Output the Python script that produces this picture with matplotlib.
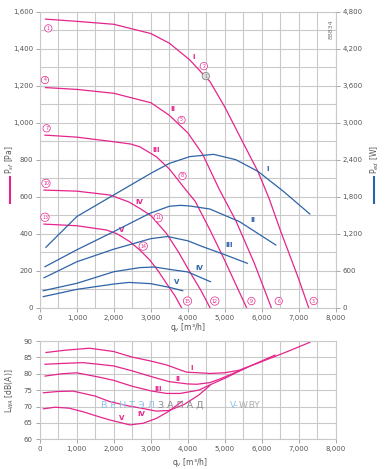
import matplotlib
matplotlib.use('Agg')
import matplotlib.pyplot as plt
from matplotlib.ticker import MultipleLocator, FuncFormatter

# pressure curves p_sf [Pa] for speeds I..V
q_p1 = [150, 1000, 2000, 3000, 3500, 4050, 4600, 5000, 5500, 5900, 6200, 6500, 7000, 7270]
p_1 = [1560, 1548, 1532, 1482, 1430, 1340, 1222, 1085, 890, 735, 590, 420, 155, 0]
q_p2 = [150, 1000, 2000, 3000, 3500, 4000, 4400, 4850, 5300, 5800, 6260]
p_2 = [1190, 1180, 1159, 1108, 1040, 945, 830, 640, 470, 240, 0]
q_p3 = [135, 1000, 2000, 2450, 2700, 3150, 3500, 3950, 4200, 4600, 5000, 5300, 5590]
p_3 = [933, 922, 897, 885, 870, 816, 750, 636, 575, 420, 255, 125, 0]
q_p4 = [108, 1000, 1900, 2400, 2700, 3000, 3420, 3750, 4050, 4350, 4600]
p_4 = [636, 630, 609, 572, 537, 498, 402, 300, 195, 95, 0]
q_p5 = [108, 1000, 1800, 2100, 2430, 2700, 2970, 3200, 3420, 3650, 3830]
p_5 = [452, 443, 420, 398, 357, 312, 258, 198, 132, 65, 0]

# power curves P_ed [W]
q_w1 = [160, 1000, 2000, 3000, 3500, 4050, 4700, 5300, 5900, 6600, 7300]
w_1 = [980, 1480, 1830, 2180, 2340, 2450, 2487, 2400, 2210, 1880, 1520]
q_w2 = [135, 1000, 2000, 2970, 3500, 3800, 4050, 4600, 5400, 6380]
w_2 = [665, 940, 1235, 1530, 1645, 1660, 1650, 1600, 1395, 1017]
q_w3 = [108, 1000, 2000, 3000, 3450, 4000, 4400, 5000, 5610]
w_3 = [485, 746, 950, 1120, 1155, 1085, 990, 860, 720]
q_w4 = [90, 1000, 2000, 2700, 3100, 3500, 4000, 4610]
w_4 = [276, 396, 584, 650, 660, 622, 580, 422]
q_w5 = [90, 1000, 2000, 2400, 3000, 3500, 3860]
w_5 = [180, 298, 384, 410, 390, 330, 276]

# sound power L_WA [dB(A)]
q_l1 = [175, 700, 1350, 2000, 2500, 3000, 3430, 3970, 4300, 4600, 5000, 5400, 6000, 6700, 7300]
l_1 = [86.5, 87.2, 87.8, 86.8, 85.1, 83.9, 82.7, 80.5, 80.3, 80.1, 80.3, 81.1, 83.7, 86.8, 89.6]
q_l2 = [148, 700, 1180, 2000, 2500, 3000, 3500, 4000, 4250, 4600, 4870, 5500, 6360]
l_2 = [82.9, 83.2, 83.4, 82.4, 80.9, 79.2, 77.6, 76.9, 76.8, 77.3, 78.4, 81.4, 85.7]
q_l3 = [148, 600, 1000, 1600, 2000, 2500, 3000, 3430, 3800, 4300, 4600, 5000, 5590]
l_3 = [79.3, 80.0, 80.3, 79.0, 78.0, 76.2, 74.8, 74.0, 74.0, 75.0, 76.6, 78.6, 81.9]
q_l4 = [103, 500, 913, 1500, 1900, 2400, 2700, 3160, 3500, 3900, 4300, 4600]
l_4 = [74.2, 74.6, 74.7, 73.2, 71.5, 70.2, 69.6, 68.6, 68.8, 70.6, 73.5, 76.4]
q_l5 = [103, 418, 800, 1180, 1600, 1900, 2440, 2800, 3160, 3500, 3850]
l_5 = [69.3, 69.8, 69.5, 68.4, 66.9, 65.9, 64.4, 64.9, 66.4, 68.6, 71.6]

roman = ['I', 'II', 'III', 'IV', 'V']

PINK = '#e5258c'
BLUE = '#2e63a8'
GRID = '#c9c9c9'
TXT = '#555555'

fig = plt.figure(figsize=(3.92, 4.69), dpi=100)
fig.patch.set_facecolor('white')

comma = FuncFormatter(lambda v, pos: f'{v:,.0f}')


def style_axes(ax, xminor, yminor):
    ax.xaxis.set_minor_locator(MultipleLocator(xminor))
    ax.yaxis.set_minor_locator(MultipleLocator(yminor))
    ax.grid(True, which='both', color=GRID, linewidth=0.8)
    ax.set_axisbelow(True)
    for s in ax.spines.values():
        s.set_color(GRID)
        s.set_linewidth(0.8)
    ax.tick_params(which='major', length=3, width=0.6, color='#999999',
                   labelsize=5, labelcolor=TXT, pad=2)
    ax.tick_params(which='minor', length=0)


# top chart: pressure + power
ax1 = fig.add_axes([0.1020, 0.3439, 0.7543, 0.6311])
ax1.set_xlim(0, 8000)
ax1.set_ylim(0, 1600)
ax1.xaxis.set_major_locator(MultipleLocator(1000))
ax1.yaxis.set_major_locator(MultipleLocator(200))
ax1.xaxis.set_major_formatter(comma)
ax1.yaxis.set_major_formatter(comma)
style_axes(ax1, 500, 100)

ax2 = ax1.twinx()
ax2.set_ylim(0, 4800)
ax2.yaxis.set_major_locator(MultipleLocator(600))
ax2.yaxis.set_major_formatter(comma)
for s in ax2.spines.values():
    s.set_visible(False)
ax2.tick_params(length=3, width=0.6, color='#999999', labelsize=5, labelcolor=TXT, pad=2)

press = [(q_p1, p_1), (q_p2, p_2), (q_p3, p_3), (q_p4, p_4), (q_p5, p_5)]
for q, p in press:
    ax1.plot(q, p, color=PINK, lw=0.9, solid_joinstyle='round')

power = [(q_w1, w_1), (q_w2, w_2), (q_w3, w_3), (q_w4, w_4), (q_w5, w_5)]
for q, w in power:
    ax2.plot(q, w, color=BLUE, lw=0.9, solid_joinstyle='round')

# roman labels
pink_lab = [(4160, 1355), (3600, 1072), (3150, 852), (2680, 573), (2210, 420)]
for r, (x, y) in zip(roman, pink_lab):
    ax1.text(x, y, r, color=PINK, fontsize=5, fontweight='bold', ha='center', va='center')
blue_lab = [(6170, 2244), (5750, 1422), (5120, 1017), (4300, 640), (3700, 423)]
for r, (x, y) in zip(roman, blue_lab):
    ax2.text(x, y, r, color=BLUE, fontsize=5, fontweight='bold', ha='center', va='center')

# circled point numbers
circ = [('1', 225, 1510), ('4', 135, 1231), ('7', 180, 970), ('10', 162, 672), ('13', 135, 489),
        ('2', 4432, 1306), ('5', 3830, 1015), ('8', 3857, 712), ('11', 3198, 486), ('14', 2793, 333),
        ('15', 3992, 36), ('12', 4730, 36), ('9', 5721, 36), ('6', 6459, 36), ('3', 7405, 36)]
for t, x, y in circ:
    ax1.text(x, y, t, color=PINK, fontsize=3.4, ha='center', va='center',
             bbox=dict(boxstyle='circle,pad=0.25', fc='white', ec=PINK, lw=0.5))
ax1.text(4486, 1252, '1', color='#777777', fontsize=3.4, ha='center', va='center',
         bbox=dict(boxstyle='circle,pad=0.25', fc='#dddddd', ec='#777777', lw=0.5))

ax1.text(0.985, 0.94, '88834', transform=ax1.transAxes, rotation=90, fontsize=4.5,
         color='#777777', ha='center', va='center')

fig.text(10 / 392, 1 - 160 / 469, 'P$_{sf}$ [Pa]', rotation=90, fontsize=5.5, color=TXT,
         ha='center', va='center')
fig.add_artist(plt.Line2D([10 / 392, 10 / 392], [1 - 177 / 469, 1 - 203 / 469], color=PINK, lw=1.5))
fig.text(375 / 392, 1 - 160 / 469, 'P$_{ed}$ [W]', rotation=90, fontsize=5.5, color=TXT,
         ha='center', va='center')
fig.add_artist(plt.Line2D([374 / 392, 374 / 392], [1 - 177 / 469, 1 - 203 / 469], color=BLUE, lw=1.5))
fig.text(188 / 392, 1 - 328 / 469, 'q$_v$ [m³/h]', fontsize=5.5, color=TXT, ha='center', va='center')

# bottom chart: sound power
ax3 = fig.add_axes([0.1008, 0.0633, 0.7556, 0.2096])
ax3.set_xlim(0, 8000)
ax3.set_ylim(60, 90)
ax3.xaxis.set_major_locator(MultipleLocator(1000))
ax3.yaxis.set_major_locator(MultipleLocator(5))
ax3.xaxis.set_major_formatter(comma)
style_axes(ax3, 500, 5)

sound = [(q_l1, l_1), (q_l2, l_2), (q_l3, l_3), (q_l4, l_4), (q_l5, l_5)]
for q, l in sound:
    ax3.plot(q, l, color=PINK, lw=0.9, solid_joinstyle='round')

snd_lab = [(4100, 81.9), (3750, 78.4), (3210, 75.4), (2750, 67.6), (2210, 66.5)]
for r, (x, y) in zip(roman, snd_lab):
    ax3.text(x, y, r, color=PINK, fontsize=5, fontweight='bold', ha='center', va='center')

fig.text(10 / 392, 1 - 391 / 469, 'L$_{WA}$ [dB(A)]', rotation=90, fontsize=5.5, color=TXT,
         ha='center', va='center')
fig.text(190 / 392, 1 - 462 / 469, 'q$_v$ [m³/h]', fontsize=5.5, color=TXT, ha='center', va='center')

# watermark
fig.text(101 / 392, 1 - 405 / 469, 'В Е Н Т Э Л', fontsize=6.8, color='#8fc2e8', ha='left', va='center')
fig.text(158 / 392, 1 - 405 / 469, 'З А П А Д', fontsize=6.8, color='#8a8a8a', ha='left', va='center')
fig.text(230 / 392, 1 - 405 / 469, 'V-', fontsize=6.5, color='#8fc2e8', ha='left', va='center')
fig.text(239 / 392, 1 - 405 / 469, 'W.BY', fontsize=6.5, color='#aaaaaa', ha='left', va='center')

fig.savefig('out.png', dpi=100)
